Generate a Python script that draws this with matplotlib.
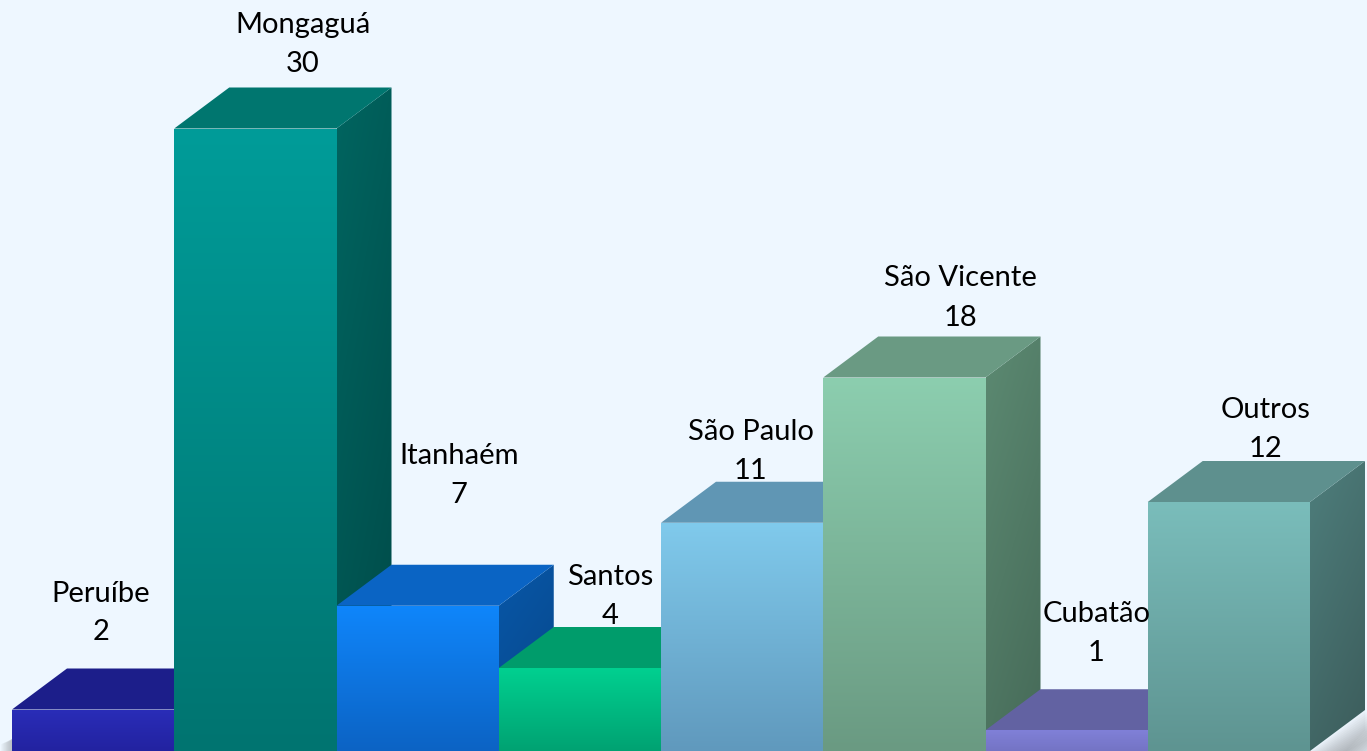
import numpy as np
import matplotlib
matplotlib.use("Agg")
import matplotlib.pyplot as plt
from matplotlib.patches import Polygon
from matplotlib.colors import to_rgb
import matplotlib.transforms as mtransforms

# ---- data ----
categories = ["Peruíbe", "Mongaguá", "Itanhaém", "Santos", "São Paulo", "São Vicente", "Cubatão", "Outros"]
values = [2, 30, 7, 4, 11, 18, 1, 12]

# ---- styles ----
front_top = ["#2A2DB8", "#009C99", "#0F86FB", "#00D090", "#80CAEC", "#8CCEAF", "#8080D8", "#7ABDBB"]
front_bot = ["#2222A0", "#007470", "#0C63C4", "#00A272", "#6099BD", "#6A9A82", "#7474C4", "#5E9491"]
top_col   = ["#1C1E8A", "#00766F", "#0A64C4", "#009C6B", "#6096B4", "#6A9A83", "#6262A2", "#5E908E"]
side_top  = ["#1A1C80", "#006560", "#0857A8", "#008A5E", "#52839E", "#5C8A72", "#55558E", "#4E7E7C"]
side_bot  = ["#141664", "#004A48", "#064687", "#006E4A", "#44708A", "#466A58", "#46467A", "#3C5C5B"]
# label offsets (pixels) relative to the centre of the bar's top-back edge
label_dx = [-20, 20, 14, 3, -19, 29, 2, 9]
label_dy = [42, 29, 76, 17, 17, 25, 42, 18]

W, H = 1367, 751
fig = plt.figure(figsize=(W / 100, H / 100), dpi=100)
bg = "#EEF7FF"
fig.patch.set_facecolor(bg)
ax = fig.add_axes([0, 0, 1, 1])
ax.set_facecolor(bg)

px_x = 162.25           # pixels per category unit
px_y = 20.75            # pixels per value unit
x0 = -0.5 - 12 / px_x
ax.set_xlim(x0, x0 + W / px_x)
ax.set_ylim(0, H / px_y)
ax.axis("off")

dx = 55 / px_x
dy = 41 / px_y
bw = 1.0


def grad_face(pts, c1, c2, direction="v"):
    poly = Polygon(pts, closed=True, facecolor="none", edgecolor="none")
    ax.add_patch(poly)
    pts = np.asarray(pts)
    xmin, xmax = pts[:, 0].min(), pts[:, 0].max()
    ymin, ymax = pts[:, 1].min(), pts[:, 1].max()
    n = 256
    c1 = np.array(to_rgb(c1)); c2 = np.array(to_rgb(c2))
    if direction == "v":
        t = np.linspace(0, 1, n)[:, None, None] * np.ones((1, 2, 1))
    else:  # diagonal
        yy, xx = np.mgrid[0:1:n * 1j, 0:1:n * 1j]
        t = (0.7 * yy + 0.3 * xx)[:, :, None]
    img = c1 * (1 - t) + c2 * t
    im = ax.imshow(img, extent=(xmin, xmax, ymin, ymax), origin="upper",
                   aspect="auto", interpolation="bilinear", zorder=2)
    im.set_clip_path(poly)
    return im


# soft shadows (bottom right of last bar, bottom left corner)
nb = len(values)
Rlast = nb - 0.5
for k in range(14):
    off = k * 1.5
    sh = Polygon([(Rlast, -off / px_y),
                  (Rlast + dx + off / px_x, dy - off / px_y),
                  (Rlast + dx + off / px_x, dy * 0.5 - off / px_y),
                  (Rlast + off / px_x, -2)],
                 closed=True, facecolor="#505050", edgecolor="none", alpha=0.03, zorder=1)
    ax.add_patch(sh)
for k in range(10):
    off = k * 1.2
    sh = Polygon([(-0.5 - off / px_x, 0), (-0.5 - off / px_x, (10 - off * 0.3) / px_y),
                  (-0.5, (12) / px_y), (-0.5, 0)],
                 closed=True, facecolor="#505050", edgecolor="none", alpha=0.04, zorder=1)
    ax.add_patch(sh)

zbase = 2
for i, (v, name) in enumerate(zip(values, categories)):
    L = i - 0.5
    R = L + bw
    # side face
    side = [(R, 0), (R + dx, dy), (R + dx, v + dy), (R, v)]
    im = grad_face(side, side_top[i], side_bot[i], "d")
    im.set_zorder(zbase + i * 3)
    # top face
    top = Polygon([(L, v), (L + dx, v + dy), (R + dx, v + dy), (R, v)], closed=True,
                  facecolor=top_col[i], edgecolor="none", zorder=zbase + i * 3 + 1)
    ax.add_patch(top)
    # front face
    front = [(L, 0), (L, v), (R, v), (R, 0)]
    im = grad_face(front, front_top[i], front_bot[i], "v")
    im.set_zorder(zbase + i * 3 + 2)

    # labels
    cx = (L + R) / 2 + dx / 2
    cy = v + dy
    tr = mtransforms.offset_copy(ax.transData, fig=fig, x=label_dx[i], y=label_dy[i] - 19, units="dots")
    ax.text(cx, cy, str(v), transform=tr, ha="center", va="bottom",
            fontsize=21, family="Lato", color="black", zorder=50)
    tr2 = mtransforms.offset_copy(ax.transData, fig=fig, x=label_dx[i], y=label_dy[i] + 20, units="dots")
    ax.text(cx, cy, name, transform=tr2, ha="center", va="bottom",
            fontsize=21, family="Lato", color="black", zorder=50)

fig.savefig("out.png", dpi=100, facecolor=bg)
